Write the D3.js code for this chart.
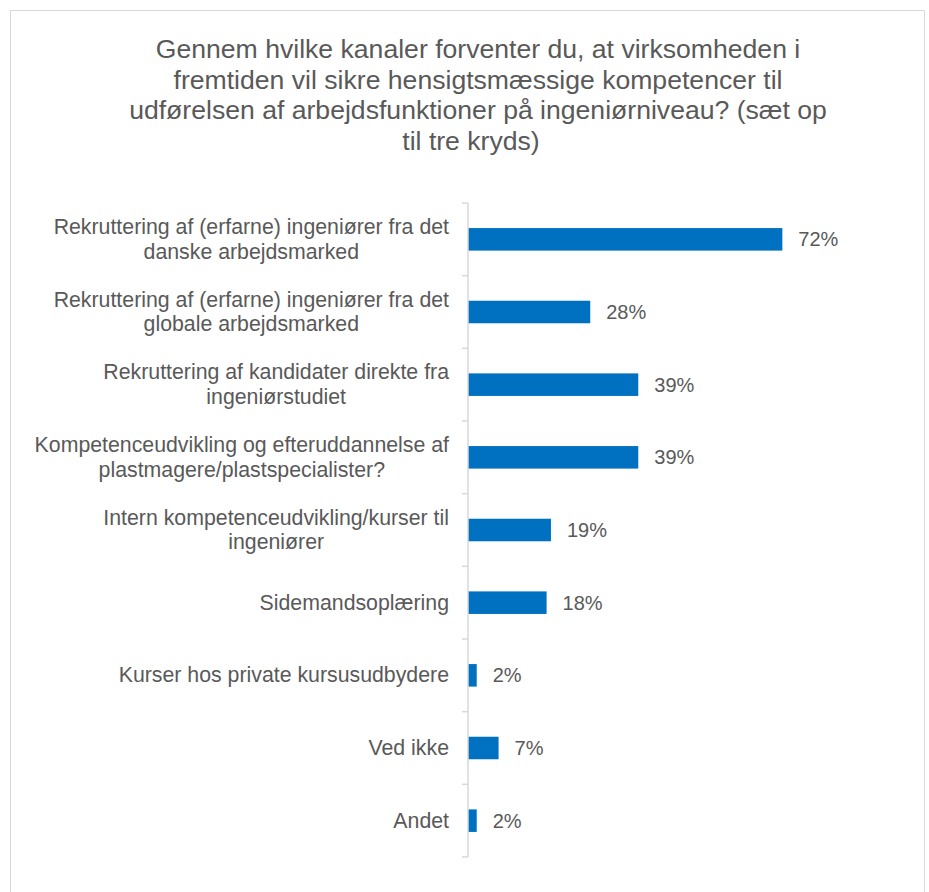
<!DOCTYPE html>
<html>
<head>
<meta charset="utf-8">
<script src="https://cdn.jsdelivr.net/npm/d3@7"></script>
<style>
  body { margin: 0; background: #fff; }
  text { font-family: "Liberation Sans", Arial, sans-serif; fill: #595959; }
</style>
</head>
<body>
<div id="chart"></div>
<script>
// data
var categories = [
  ["Rekruttering af (erfarne) ingeniører fra det", "danske arbejdsmarked"],
  ["Rekruttering af (erfarne) ingeniører fra det", "globale arbejdsmarked"],
  ["Rekruttering af kandidater direkte fra", "ingeniørstudiet"],
  ["Kompetenceudvikling og efteruddannelse af", "plastmagere/plastspecialister?"],
  ["Intern kompetenceudvikling/kurser til", "ingeniører"],
  ["Sidemandsoplæring"],
  ["Kurser hos private kursusudbydere"],
  ["Ved ikke"],
  ["Andet"]
];
var values = [72, 28, 39, 39, 19, 18, 2, 7, 2];
var titleLines = [
  "Gennem hvilke kanaler forventer du, at virksomheden i",
  "fremtiden vil sikre hensigtsmæssige kompetencer til",
  "udførelsen af arbejdsfunktioner på ingeniørniveau? (sæt op",
  "til tre kryds)"
];

var W = 929, H = 892;
var svg = d3.select("#chart").append("svg")
    .attr("width", W)
    .attr("height", H);

// chart frame
svg.append("rect")
    .attr("x", 10.5).attr("y", 10.5)
    .attr("width", 914).attr("height", 895)
    .style("fill", "#fff")
    .style("stroke", "#d9d9d9")
    .style("stroke-width", 1);

// title (last line sits a bit left of the others, as in the original)
svg.append("text")
    .attr("text-anchor", "middle")
    .style("font-size", "26.6px")
    .selectAll("tspan")
    .data(titleLines).enter()
    .append("tspan")
    .attr("x", function(d, i) { return i < 3 ? 478 : 471; })
    .attr("y", function(d, i) { return 58 + i * 30.5; })
    .text(function(d) { return d; });

var plotLeft = 468, plotTop = 203, plotH = 654;

var y = d3.scaleBand()
    .domain(d3.range(categories.length))
    .range([plotTop, plotTop + plotH])
    .paddingInner(0.69)
    .paddingOuter(0.345);

var x = d3.scaleLinear()
    .domain([0, 100])
    .range([plotLeft, plotLeft + 436.6]);

// bars
svg.selectAll(".bar")
    .data(values).enter()
    .append("rect")
    .attr("class", "bar")
    .attr("x", x(0))
    .attr("y", function(d, i) { return y(i); })
    .attr("width", function(d) { return x(d) - x(0); })
    .attr("height", y.bandwidth())
    .style("fill", "#0070c0");

// value labels
svg.selectAll(".val")
    .data(values).enter()
    .append("text")
    .attr("class", "val")
    .attr("x", function(d) { return x(d) + 16; })
    .attr("y", function(d, i) { return y(i) + y.bandwidth() / 2 + 7; })
    .style("font-size", "20px")
    .text(function(d) { return d + "%"; });

// y axis line + ticks at band edges
var step = y.step();
var ax = svg.append("g").attr("class", "axis")
    .style("stroke", "#d9d9d9")
    .style("stroke-width", 1.5);
ax.append("line")
    .attr("x1", plotLeft).attr("x2", plotLeft)
    .attr("y1", plotTop).attr("y2", plotTop + plotH);
ax.selectAll(".tick")
    .data(d3.range(categories.length + 1)).enter()
    .append("line")
    .attr("x1", plotLeft - 6).attr("x2", plotLeft)
    .attr("y1", function(d) { return plotTop + d * step; })
    .attr("y2", function(d) { return plotTop + d * step; });

// category labels, lines centred inside a right-aligned block
var lh = 24.5;
categories.forEach(function(lines, i) {
  var cy = y(i) + y.bandwidth() / 2;
  var g = svg.append("g").style("font-size", "21.3px");
  var ts = lines.map(function(l, j) {
    return g.append("text")
      .attr("y", cy + 7 + (j - (lines.length - 1) / 2) * lh)
      .text(l);
  });
  var maxW = d3.max(ts, function(t) { return t.node().getComputedTextLength(); });
  var cx = 449 - maxW / 2;
  ts.forEach(function(t) { t.attr("x", cx).attr("text-anchor", "middle"); });
});
</script>
</body>
</html>
